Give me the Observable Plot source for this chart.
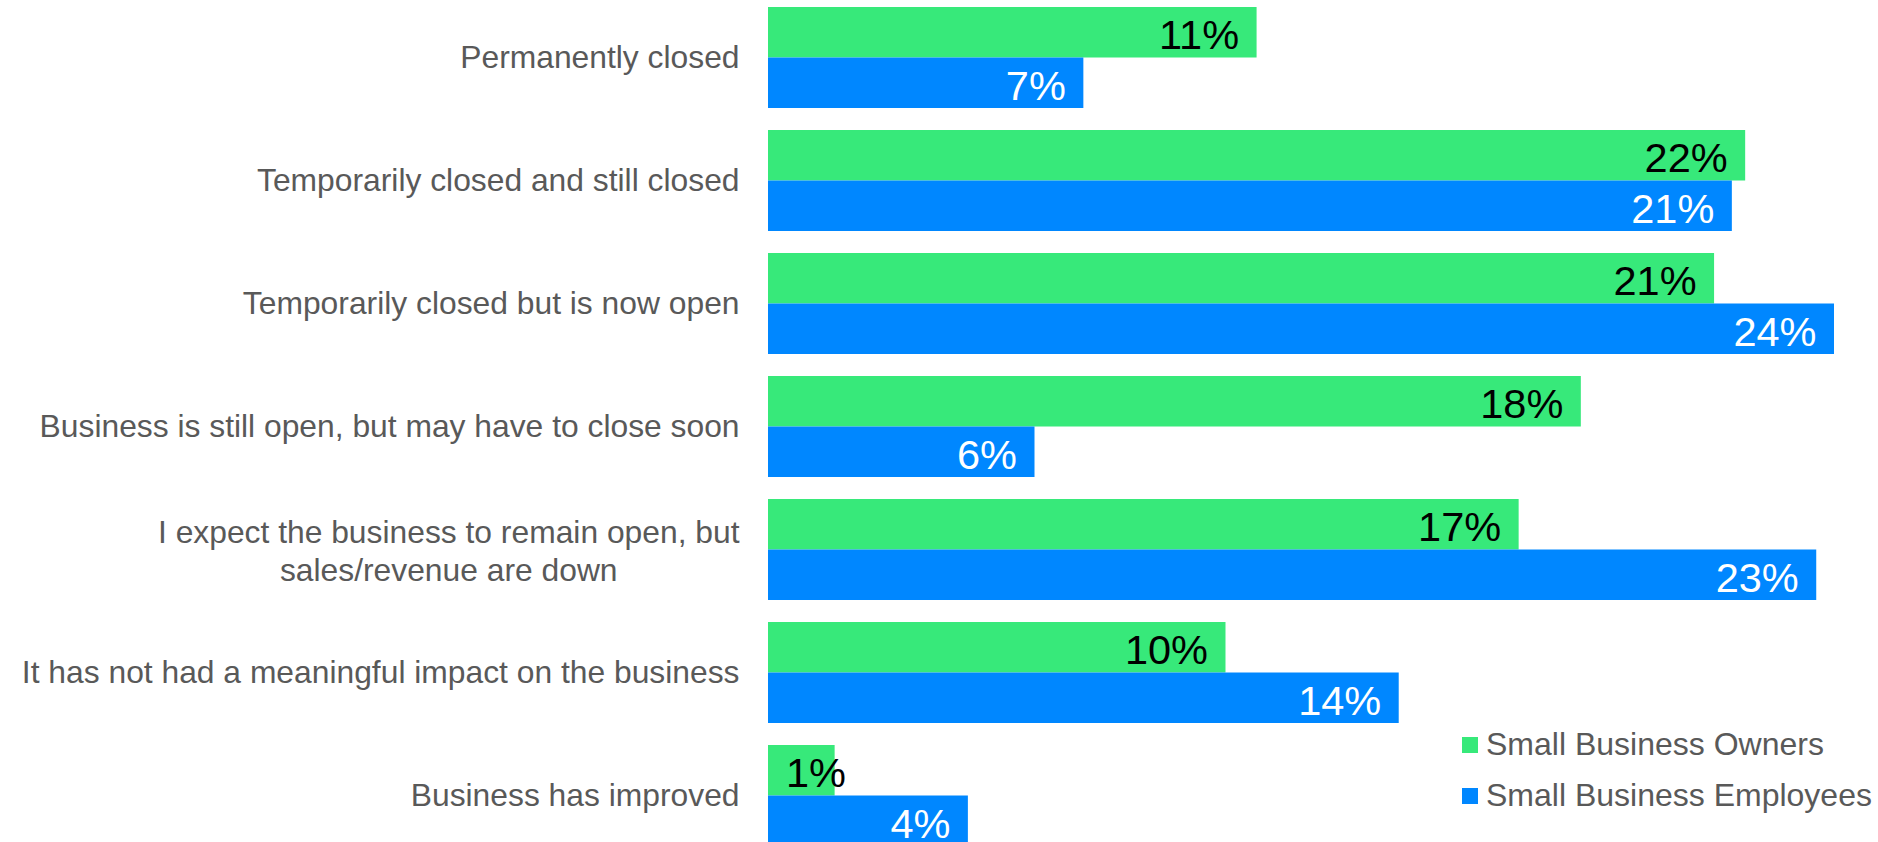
<!DOCTYPE html>
<html>
<head>
<meta charset="utf-8">
<script src="https://cdn.jsdelivr.net/npm/d3@7"></script>
<script src="https://cdn.jsdelivr.net/npm/@observablehq/plot@0.6"></script>
<style>
  html, body { margin: 0; padding: 0; background: #fff; overflow: hidden; }
  #wrap { position: relative; width: 1878px; height: 842px; }
  #legend { position: absolute; left: 1462px; top: 719px; font-family: "Liberation Sans", Arial, sans-serif; font-size: 32px; color: #595959; }
  #legend .row { display: flex; align-items: center; height: 51px; white-space: nowrap; }
  #legend .sw { width: 16px; height: 16px; margin-right: 8px; flex: none; }
</style>
</head>
<body>
<div id="wrap"></div>
<script>
const categories = [
  "Permanently closed",
  "Temporarily closed and still closed",
  "Temporarily closed but is now open",
  "Business is still open, but may have to close soon",
  "I expect the business to remain open, but\nsales/revenue are down",
  "It has not had a meaningful impact on the business",
  "Business has improved"
];
const seriesNames = ["Small Business Owners", "Small Business Employees"];
const seriesColors = ["#37E97A", "#0087FF"];
const labelColors = ["#000000", "#FFFFFF"];
const ownersValues = [11.0, 22.0, 21.3, 18.3, 16.9, 10.3, 1.5];
const employeesValues = [7.1, 21.7, 24.0, 6.0, 23.6, 14.2, 4.5];
const ownersLabels = ["11%", "22%", "21%", "18%", "17%", "10%", "1%"];
const employeesLabels = ["7%", "21%", "24%", "6%", "23%", "14%", "4%"];

const font = '"Liberation Sans", Arial, sans-serif';
const W = 1878, H = 842;
const yRange = [7, 846];
const padIn = 22 / 123;
const step = (yRange[1] - yRange[0]) / (categories.length - padIn);
const bw = step * (1 - padIn);
const half = bw / 2;

const owners = categories.map((c, i) => ({category: c, value: ownersValues[i], label: ownersLabels[i]}));
const employees = categories.map((c, i) => ({category: c, value: employeesValues[i], label: employeesLabels[i]}));

const catFont = 31.8;
const ctx = document.createElement("canvas").getContext("2d");
ctx.font = `${catFont}px ${font}`;
const single = categories.filter(c => !c.includes("\n"));
const multi = categories.filter(c => c.includes("\n"));
const multiW = multi.length ? d3.max(multi[0].split("\n"), s => ctx.measureText(s).width) : 0;

const minLabelX = 2.15;

const chart = Plot.plot({
  width: W,
  height: H,
  marginLeft: 768,
  marginRight: 44,
  marginTop: 0,
  marginBottom: 0,
  style: {fontFamily: font, background: "white", overflow: "hidden"},
  x: {domain: [0, 24], axis: null},
  y: {domain: categories, range: yRange, paddingInner: padIn, paddingOuter: 0, axis: null},
  marks: [
    Plot.barX(owners, {x: "value", y: "category", fill: seriesColors[0], insetBottom: half}),
    Plot.barX(employees, {x: "value", y: "category", fill: seriesColors[1], insetTop: half}),
    Plot.text(owners, {x: d => Math.max(d.value, minLabelX), y: "category", text: "label", textAnchor: "end", dx: -18, dy: -half / 2 + 3, fill: labelColors[0], fontSize: 41.5}),
    Plot.text(employees, {x: d => Math.max(d.value, minLabelX), y: "category", text: "label", textAnchor: "end", dx: -18, dy: half / 2 + 3, fill: labelColors[1], fontSize: 41.5}),
    Plot.text(single, {y: d => d, text: d => d, frameAnchor: "left", textAnchor: "end", dx: -29, fill: "#595959", fontSize: catFont}),
    Plot.text(multi, {y: d => d, text: d => d, frameAnchor: "left", textAnchor: "middle", dx: -29 - multiW / 2, lineHeight: 1.2, fill: "#595959", fontSize: catFont})
  ]
});

const wrap = document.getElementById("wrap");
wrap.appendChild(chart);

const legend = document.createElement("div");
legend.id = "legend";
seriesNames.forEach((n, i) => {
  const row = document.createElement("div");
  row.className = "row";
  const sw = document.createElement("span");
  sw.className = "sw";
  sw.style.background = seriesColors[i];
  const t = document.createElement("span");
  t.textContent = n;
  row.appendChild(sw);
  row.appendChild(t);
  legend.appendChild(row);
});
wrap.appendChild(legend);
</script>
</body>
</html>
